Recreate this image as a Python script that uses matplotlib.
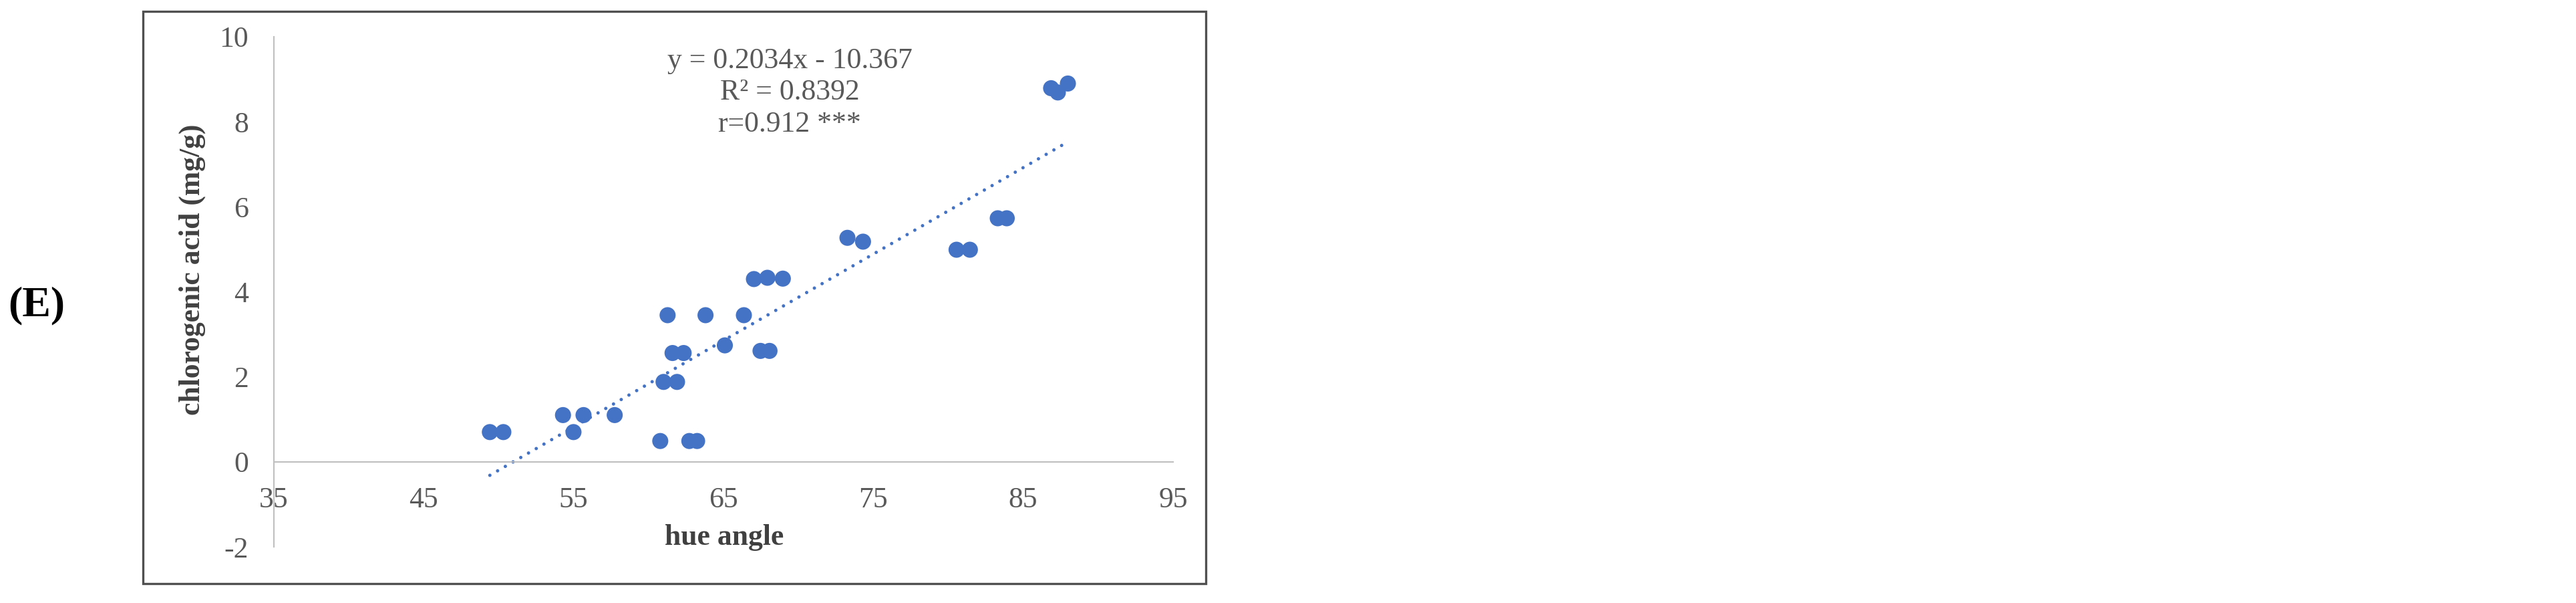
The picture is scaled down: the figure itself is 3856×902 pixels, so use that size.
import matplotlib
matplotlib.use("Agg")
import matplotlib.pyplot as plt
from matplotlib.patches import Rectangle
import numpy as np

# ---- data ----
hue_angle = [49.41, 50.31, 54.29, 54.99, 55.66, 57.74, 60.78, 62.72, 63.24,
             61.27, 63.80, 66.36, 61.00, 61.90, 61.60, 62.34, 65.09, 67.47,
             68.07, 67.03, 67.93, 68.96, 73.27, 74.31, 80.55, 81.44, 83.30,
             83.90, 86.86, 87.98, 87.31]
chlorogenic = [0.70, 0.70, 1.10, 0.70, 1.10, 1.10, 0.49, 0.49, 0.49,
               3.45, 3.45, 3.45, 1.88, 1.88, 2.56, 2.56, 2.74, 2.61,
               2.61, 4.30, 4.33, 4.31, 5.27, 5.18, 4.99, 4.99, 5.73,
               5.73, 8.79, 8.90, 8.69]
slope = 0.2034
intercept = -10.367
eq_lines = ["y = 0.2034x - 10.367", "R\u00b2 = 0.8392", "r=0.912 ***"]
x_ticks = [35, 45, 55, 65, 75, 85, 95]
y_ticks = [-2, 0, 2, 4, 6, 8, 10]
x_label = "hue angle"
y_label = "chlorogenic acid (mg/g)"
panel = "(E)"

# ---- figure ----
W, H = 3856, 902
DPI = 100
fig = plt.figure(figsize=(W / DPI, H / DPI), dpi=DPI)
fig.patch.set_facecolor("white")
SERIF = ["Liberation Serif", "DejaVu Serif"]

def fx(px):
    return px / W

def fy(py):
    return 1 - py / H

# plot area (pixel positions in the reference)
L, R, T, B = 410, 1756, 55, 818
ax = fig.add_axes([fx(L), fy(B), fx(R) - fx(L), fy(T) - fy(B)])
ax.set_xlim(35, 95)
ax.set_ylim(-2, 10)
ax.set_facecolor("none")

axis_col = "#BFBFBF"
for s in ["top", "right"]:
    ax.spines[s].set_visible(False)
ax.spines["left"].set_color(axis_col)
ax.spines["left"].set_linewidth(1.5)
ax.spines["bottom"].set_color(axis_col)
ax.spines["bottom"].set_linewidth(1.5)
ax.spines["bottom"].set_position(("data", 0))

ax.set_xticks(x_ticks)
ax.set_yticks(y_ticks)
ax.set_xticklabels([str(v) for v in x_ticks])
ax.set_yticklabels([str(v) for v in y_ticks])
ax.tick_params(axis="x", length=0, pad=26.5, labelsize=31.5, labelcolor="#595959")
ax.tick_params(axis="y", length=0, pad=27.5, labelsize=31.5, labelcolor="#595959")
for lab in ax.get_xticklabels() + ax.get_yticklabels():
    lab.set_family(SERIF)

# points
ax.scatter(hue_angle, chlorogenic, s=300, color="#4472C4", edgecolors="none",
           zorder=3, clip_on=False)

# trendline
xs = np.array([min(hue_angle), max(hue_angle)])
ax.plot(xs, slope * xs + intercept, color="#4472C4", lw=3.6,
        linestyle=(0, (0.01, 2.66)), dash_capstyle="round", zorder=2)

# equation text
eq_x = 1182
for line, base in zip(eq_lines, [102, 149, 197]):
    fig.text(fx(eq_x), fy(base), line, ha="center", va="baseline",
             fontsize=31.5, color="#595959", family=SERIF)

# axis titles
fig.text(fx(1084), fy(815), x_label, ha="center", va="baseline",
         fontsize=31.5, fontweight="bold", color="#404040", family=SERIF)
fig.text(fx(288), fy(403), y_label, ha="center", va="center", rotation=90,
         fontsize=31.5, fontweight="bold", color="#404040", family=SERIF)

# panel label
fig.text(fx(55), fy(472), panel, ha="center", va="baseline",
         fontsize=46, fontweight="bold", color="black", family=SERIF)

# chart frame
fig.patches.append(Rectangle((fx(214), fy(873)), fx(1805) - fx(214),
                             fy(17) - fy(873), transform=fig.transFigure,
                             fill=False, edgecolor="#505050", linewidth=2.4))

fig.savefig("out.png", dpi=DPI, facecolor="white")
